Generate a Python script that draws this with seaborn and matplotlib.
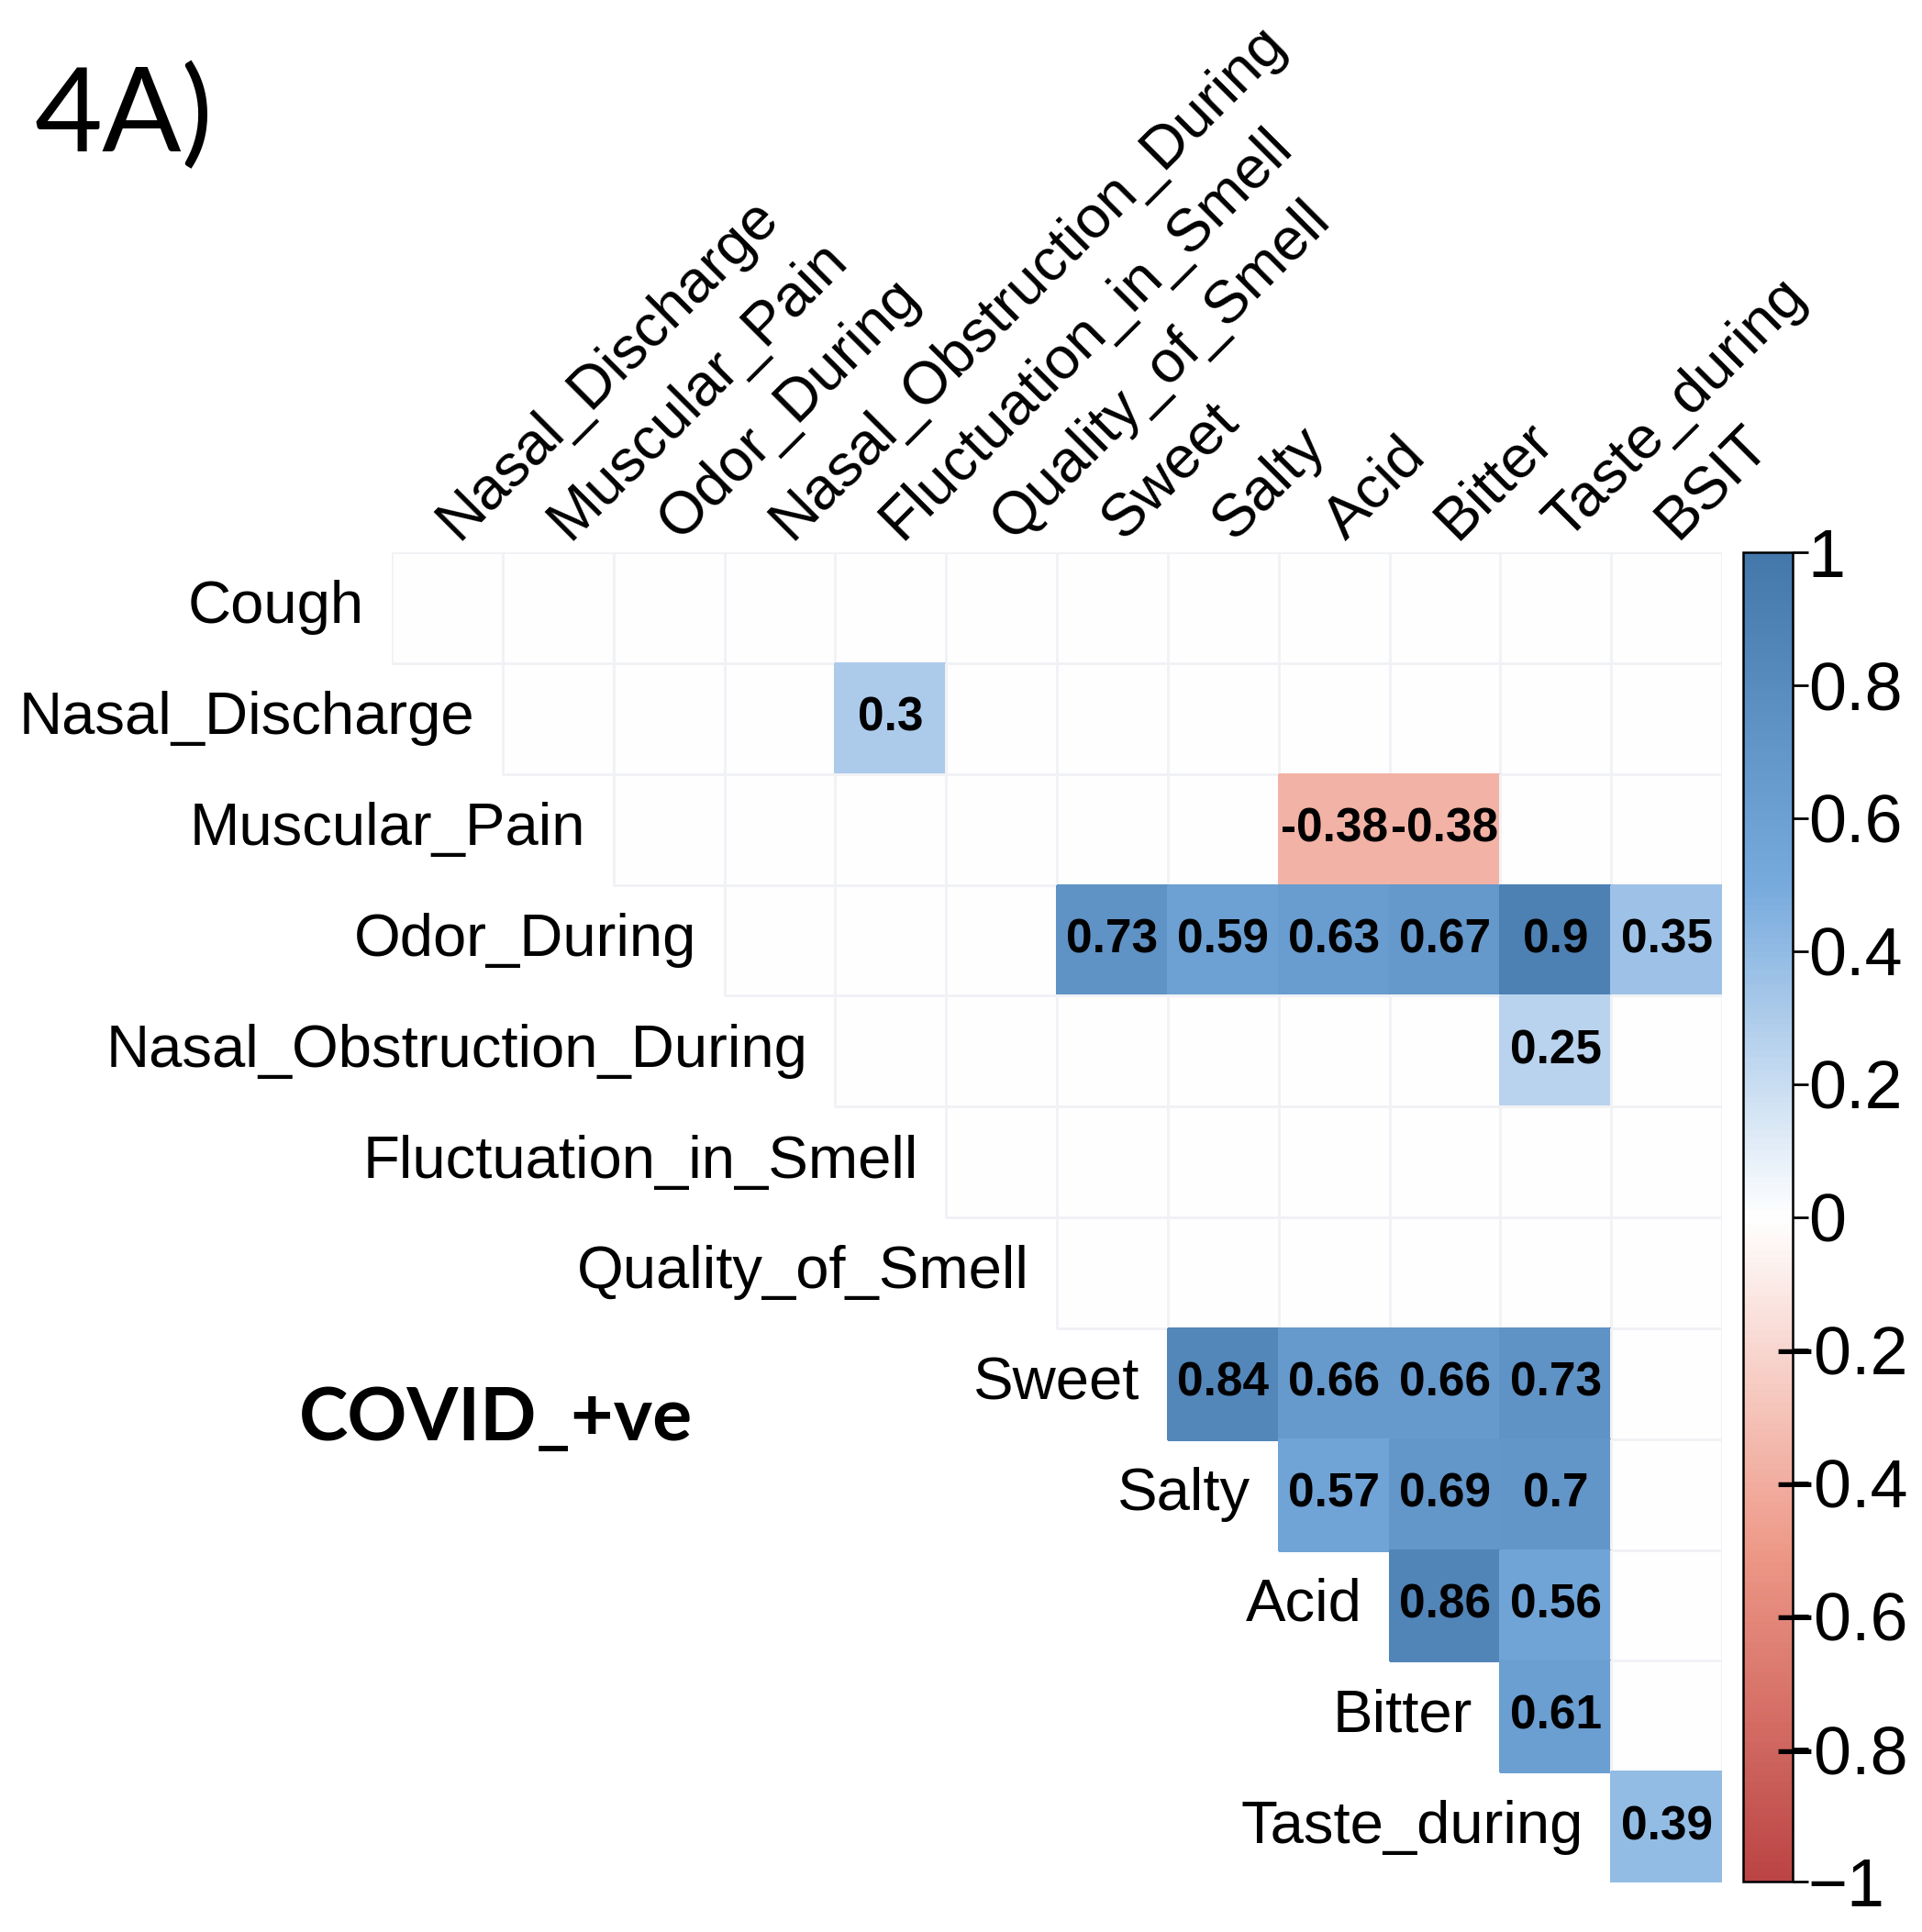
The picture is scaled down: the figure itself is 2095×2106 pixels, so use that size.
import numpy as np
import pandas as pd
import matplotlib
matplotlib.use("Agg")
import matplotlib.pyplot as plt
import seaborn as sns
from matplotlib.colors import LinearSegmentedColormap, Normalize
from matplotlib.transforms import ScaledTranslation

# -------------------------------
# Data (upper triangle, blank = not significant)
# -------------------------------
row_labels = ["Cough", "Nasal_Discharge", "Muscular_Pain", "Odor_During",
              "Nasal_Obstruction_During", "Fluctuation_in_Smell", "Quality_of_Smell",
              "Sweet", "Salty", "Acid", "Bitter", "Taste_during"]
col_labels = ["Nasal_Discharge", "Muscular_Pain", "Odor_During", "Nasal_Obstruction_During",
              "Fluctuation_in_Smell", "Quality_of_Smell", "Sweet", "Salty", "Acid",
              "Bitter", "Taste_during", "BSIT"]

nan = np.nan
# each row starts at its own diagonal column
cough = [nan] * 12
nasal_discharge = [nan, nan, nan, 0.30, nan, nan, nan, nan, nan, nan, nan]
muscular_pain = [nan, nan, nan, nan, nan, nan, -0.38, -0.38, nan, nan]
odor_during = [nan, nan, nan, 0.73, 0.59, 0.63, 0.67, 0.90, 0.35]
nasal_obstruction = [nan, nan, nan, nan, nan, nan, 0.25, nan]
fluctuation = [nan] * 7
quality = [nan] * 6
sweet = [0.84, 0.66, 0.66, 0.73, nan]
salty = [0.57, 0.69, 0.70, nan]
acid = [0.86, 0.56, nan]
bitter = [0.61, nan]
taste_during = [0.39]

upper_rows = [cough, nasal_discharge, muscular_pain, odor_during, nasal_obstruction,
              fluctuation, quality, sweet, salty, acid, bitter, taste_during]

cbar_ticks = [1, 0.8, 0.6, 0.4, 0.2, 0, -0.2, -0.4, -0.6, -0.8, -1]
cbar_tick_labels = ["1", "0.8", "0.6", "0.4", "0.2", "0",
                    "\u22120.2", "\u22120.4", "\u22120.6", "\u22120.8", "\u22121"]
palette_colors = ["#BB4444", "#EE9988", "#FFFFFF", "#77AADD", "#4477AA"]

# -------------------------------
# Build matrix
# -------------------------------
n = len(row_labels)
mat = np.full((n, n), np.nan)
for i, vals in enumerate(upper_rows):
    mat[i, i:] = vals
mask = np.tril(np.ones((n, n), dtype=bool), k=-1)
df = pd.DataFrame(np.nan_to_num(mat, nan=0.0), index=row_labels, columns=col_labels)
annot = np.array([["" if np.isnan(v) else f"{v:g}" for v in row] for row in mat])

cmap = LinearSegmentedColormap.from_list("corr", palette_colors, N=200)
norm = Normalize(-1, 1)

plt.rcParams["font.family"] = ["Liberation Sans", "DejaVu Sans"]

W, H = 2095, 2106
fig = plt.figure(figsize=(W / 100, H / 100), dpi=100)
gl, gt, gsize = 427, 602, 1450
ax = fig.add_axes([gl / W, 1 - (gt + gsize) / H, gsize / W, gsize / H])
cax = fig.add_axes([1900 / W, 1 - 2051 / H, 54 / W, 1449 / H])

sns.heatmap(df, mask=mask, cmap=cmap, vmin=-1, vmax=1, annot=annot, fmt="",
            annot_kws={"fontsize": 37, "fontweight": "bold", "color": "black"},
            linewidths=1.0, linecolor="#f1f2f5", ax=ax, cbar_ax=cax,
            xticklabels=False, yticklabels=False,
            cbar_kws={"ticks": cbar_ticks})

# cell borders: none on masked cells, same colour as fill on coloured cells
mesh = ax.collections[0]
edges = []
for i in range(n):
    for j in range(n):
        if mask[i, j]:
            edges.append((0, 0, 0, 0))
        elif np.isnan(mat[i, j]):
            edges.append((0.945, 0.95, 0.96, 1))
        else:
            edges.append(cmap(norm(mat[i, j])))
mesh.set_edgecolor(edges)

ax.set_xticks([])
ax.set_yticks([])
for s in ax.spines.values():
    s.set_visible(False)

# row labels at the start of each row
for i, lab in enumerate(row_labels):
    ax.text(i - 0.25, i + 0.5, lab, ha="right", va="center", fontsize=47)

# column labels, rotated
for j, lab in enumerate(col_labels):
    ax.text(j + 0.5, -0.2, lab, ha="left", va="center", rotation=45,
            rotation_mode="anchor", fontsize=47)

# colorbar styling
cbar = ax.collections[0].colorbar
cbar.set_ticks(cbar_ticks)
cbar.set_ticklabels(cbar_tick_labels)
cbar.ax.tick_params(labelsize=53, length=12, width=2, pad=0, direction="out")
cbar.outline.set_edgecolor("black")
cbar.outline.set_linewidth(1.8)
# minus signs of the inner negative labels sit on the tick marks
for lab in cbar.ax.get_yticklabels():
    txt = lab.get_text()
    if txt.startswith("\u2212") and txt != "\u22121":
        lab.set_transform(lab.get_transform() + ScaledTranslation(-0.36, 0, fig.dpi_scale_trans))

fig.text(38 / W, 1 - 128 / H, "4A)", fontsize=92, ha="left", va="center",
         family=["Lato", "DejaVu Sans"])
fig.text(540 / W, 1 - 1547 / H, "COVID_+ve", fontsize=58, fontweight="bold",
         ha="center", va="center", family=["Lato", "DejaVu Sans"])

fig.savefig("out.png", dpi=100, facecolor="white")
